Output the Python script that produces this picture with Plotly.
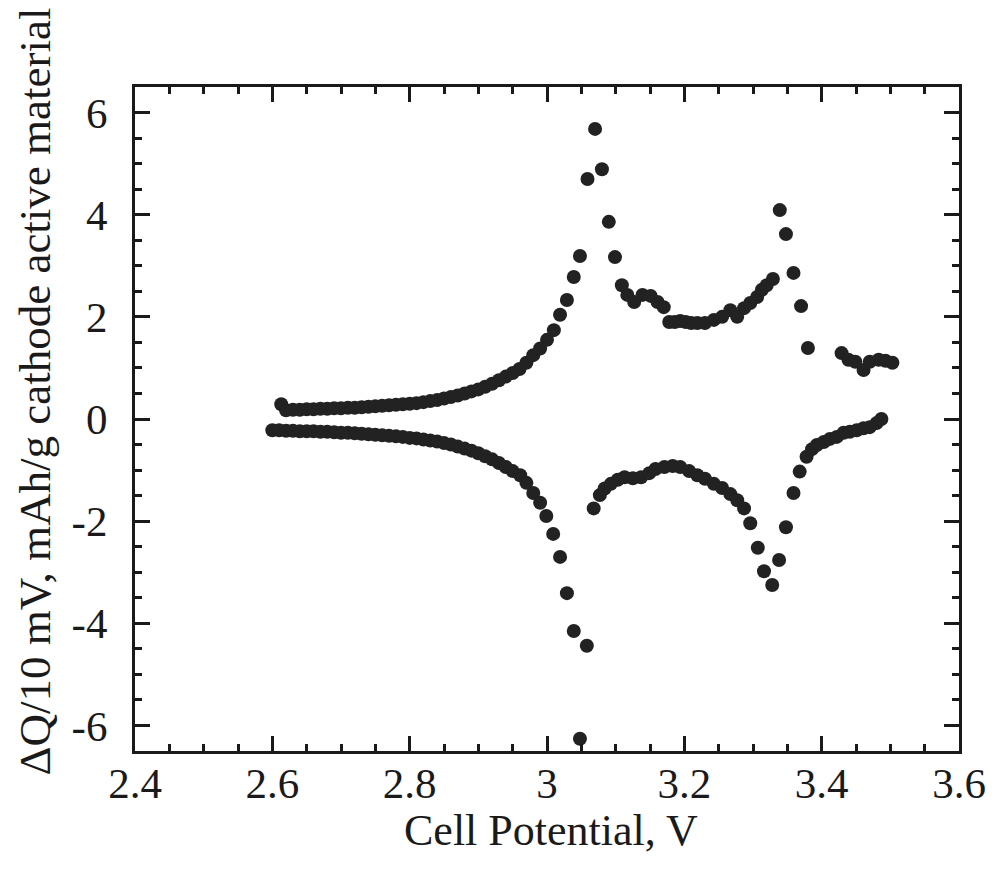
import plotly.graph_objects as go

# Charge branch (positive ΔQ), cell potential in V
charge_v = [2.613, 2.62, 2.63, 2.64, 2.65, 2.66, 2.67, 2.68, 2.69, 2.70,
            2.71, 2.72, 2.73, 2.74, 2.75, 2.76, 2.77, 2.78, 2.79, 2.80,
            2.81, 2.82, 2.83, 2.84, 2.85, 2.86, 2.87, 2.88, 2.89, 2.90,
            2.91, 2.92, 2.93, 2.94, 2.95, 2.96, 2.97, 2.98, 2.99, 3.00,
            3.01, 3.019, 3.029, 3.039, 3.048, 3.059, 3.070, 3.080, 3.090, 3.099,
            3.109, 3.117, 3.127, 3.139, 3.151, 3.161, 3.170, 3.178, 3.186, 3.194,
            3.202, 3.210, 3.219, 3.230, 3.243, 3.255, 3.267, 3.277, 3.287, 3.296,
            3.306, 3.313, 3.320, 3.329, 3.339, 3.348, 3.359, 3.370, 3.380, 3.429,
            3.439, 3.449, 3.461, 3.470, 3.483, 3.493, 3.503]
charge_dq = [0.29, 0.17, 0.18, 0.18, 0.19, 0.19, 0.20, 0.20, 0.21, 0.21,
             0.22, 0.22, 0.23, 0.24, 0.25, 0.26, 0.27, 0.28, 0.29, 0.30,
             0.31, 0.33, 0.35, 0.37, 0.40, 0.43, 0.46, 0.50, 0.54, 0.58,
             0.63, 0.69, 0.76, 0.83, 0.90, 0.98, 1.10, 1.25, 1.38, 1.55,
             1.74, 2.04, 2.33, 2.78, 3.19, 4.70, 5.68, 4.89, 3.86, 3.17,
             2.62, 2.43, 2.29, 2.43, 2.41, 2.29, 2.19, 1.90, 1.90, 1.92,
             1.90, 1.88, 1.88, 1.88, 1.94, 2.00, 2.13, 2.00, 2.17, 2.27,
             2.39, 2.53, 2.62, 2.74, 4.09, 3.62, 2.86, 2.21, 1.39, 1.29,
             1.16, 1.12, 0.96, 1.12, 1.16, 1.14, 1.10]

# Discharge branch (negative ΔQ)
discharge_v = [2.60, 2.61, 2.62, 2.63, 2.64, 2.65, 2.66, 2.67, 2.68, 2.69,
               2.70, 2.71, 2.72, 2.73, 2.74, 2.75, 2.76, 2.77, 2.78, 2.79,
               2.80, 2.81, 2.82, 2.83, 2.84, 2.85, 2.86, 2.87, 2.88, 2.89,
               2.90, 2.91, 2.92, 2.93, 2.94, 2.95, 2.961, 2.970, 2.980, 2.990,
               2.999, 3.009, 3.019, 3.029, 3.039, 3.048, 3.058, 3.068, 3.077, 3.084,
               3.093, 3.103, 3.113, 3.125, 3.137, 3.149, 3.158, 3.171, 3.183, 3.194,
               3.207, 3.219, 3.230, 3.243, 3.255, 3.267, 3.277, 3.287, 3.296, 3.307,
               3.316, 3.328, 3.338, 3.348, 3.359, 3.368, 3.378, 3.386, 3.393, 3.403,
               3.412, 3.422, 3.432, 3.441, 3.451, 3.461, 3.470, 3.480, 3.487]
discharge_dq = [-0.22, -0.22, -0.23, -0.23, -0.24, -0.24, -0.24, -0.25, -0.25, -0.26,
                -0.27, -0.27, -0.28, -0.29, -0.30, -0.31, -0.32, -0.33, -0.34, -0.35,
                -0.37, -0.38, -0.40, -0.42, -0.44, -0.47, -0.50, -0.54, -0.58, -0.62,
                -0.67, -0.73, -0.79, -0.86, -0.94, -1.02, -1.10, -1.25, -1.45, -1.64,
                -1.90, -2.25, -2.70, -3.41, -4.15, -6.26, -4.44, -1.75, -1.49, -1.36,
                -1.27, -1.19, -1.14, -1.16, -1.14, -1.06, -0.98, -0.94, -0.92, -0.94,
                -1.02, -1.10, -1.17, -1.27, -1.35, -1.47, -1.59, -1.75, -2.04, -2.52,
                -2.98, -3.25, -2.76, -2.12, -1.45, -1.03, -0.74, -0.59, -0.51, -0.45,
                -0.39, -0.35, -0.27, -0.25, -0.22, -0.18, -0.16, -0.08, 0.00]

x_tickvals = [2.4, 2.6, 2.8, 3.0, 3.2, 3.4, 3.6]
x_ticktext = ["2.4", "2.6", "2.8", "3", "3.2", "3.4", "3.6"]
y_tickvals = [-6, -4, -2, 0, 2, 4, 6]
y_ticktext = ["-6", "-4", "-2", "0", "2", "4", "6"]

FONT = "Liberation Serif, Times New Roman, serif"
INK = "#1a1a1a"
DOT = dict(size=14, color="#222222")

fig = go.Figure()
fig.add_trace(go.Scatter(x=charge_v, y=charge_dq, mode="markers", marker=DOT,
                         showlegend=False))
fig.add_trace(go.Scatter(x=discharge_v, y=discharge_dq, mode="markers", marker=DOT,
                         showlegend=False))

axis_common = dict(
    showline=True, linewidth=3, linecolor=INK, mirror="allticks",
    ticks="inside", ticklen=15, tickwidth=2.5, tickcolor=INK,
    showgrid=False, zeroline=False,
    tickfont=dict(family=FONT, size=43, color=INK),
)

fig.update_xaxes(range=[2.4, 3.6], tickmode="array", tickvals=x_tickvals,
                 ticktext=x_ticktext, ticklabelstandoff=-8,
                 minor=dict(dtick=0.05, ticks="inside", ticklen=7, tickwidth=2.5,
                            tickcolor=INK, showgrid=False),
                 **axis_common)
fig.update_yaxes(range=[-6.5, 6.5], tickmode="array", tickvals=y_tickvals,
                 ticktext=y_ticktext, ticklabelstandoff=16,
                 minor=dict(dtick=0.5, ticks="inside", ticklen=7, tickwidth=2.5,
                            tickcolor=INK, showgrid=False),
                 **axis_common)

fig.add_annotation(text="Cell Potential, V", xref="paper", yref="paper",
                   x=0.505, y=-0.12, xanchor="center", yanchor="middle",
                   showarrow=False, font=dict(family=FONT, size=44, color=INK))
fig.add_annotation(text="ΔQ/10 mV, mAh/g cathode active material",
                   xref="paper", yref="paper", x=-0.121, y=0.542,
                   xanchor="center", yanchor="middle", textangle=-90,
                   showarrow=False, font=dict(family=FONT, size=45, color=INK))

fig.update_layout(
    width=998, height=874,
    margin=dict(l=135, r=35, t=87, b=123),
    plot_bgcolor="white", paper_bgcolor="white",
)

fig.write_html("out.html")
